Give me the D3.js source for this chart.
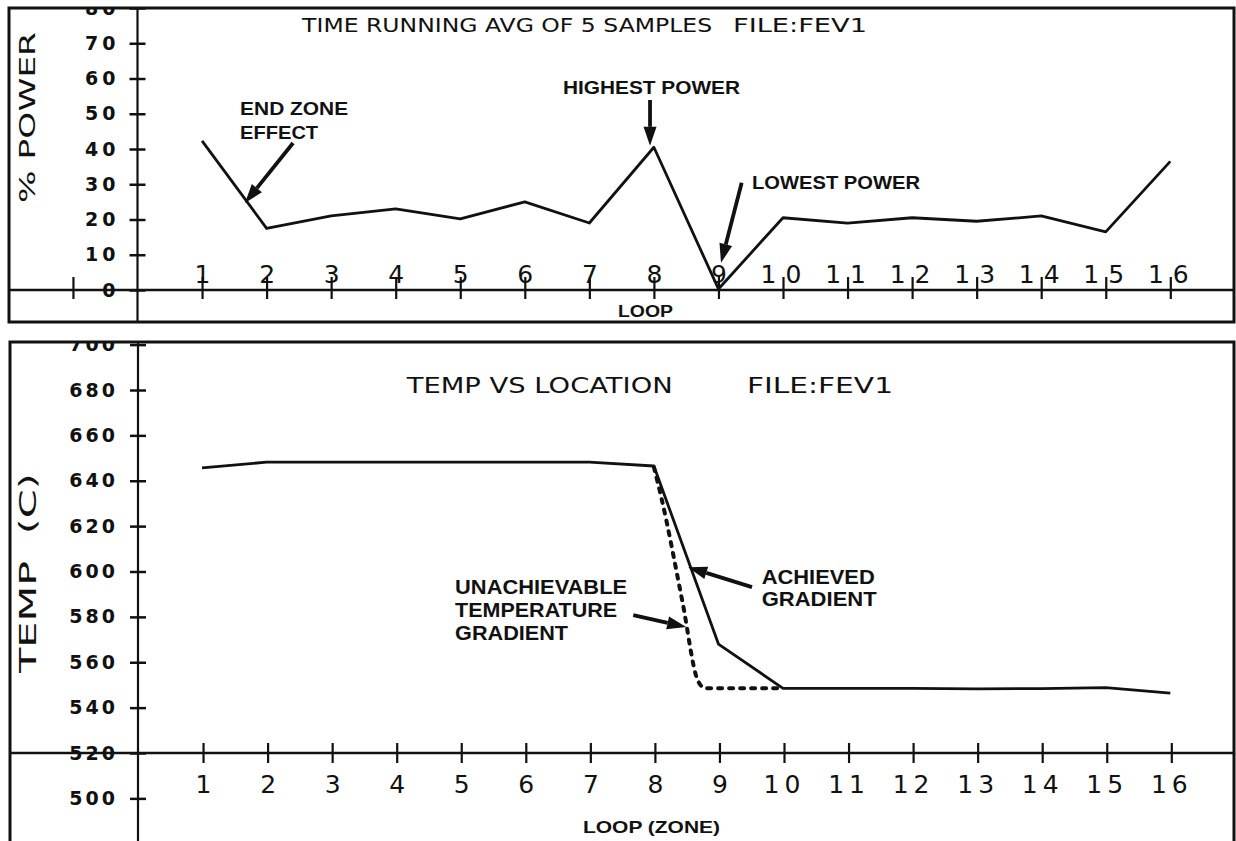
<!DOCTYPE html>
<html>
<head>
<meta charset="utf-8">
<script src="https://cdn.jsdelivr.net/npm/d3@7"></script>
<style>
  body { margin: 0; background: #fff; }
  svg { display: block; }
  .plot { font-family: "DejaVu Sans", sans-serif; fill: #111; }
  .note { font-family: "Liberation Sans", Arial, sans-serif; font-weight: bold; fill: #111; }
</style>
</head>
<body>
<div id="chart"></div>
<script>
// loop (zone) numbers along the furnace
var loops = [1, 2, 3, 4, 5, 6, 7, 8, 9, 10, 11, 12, 13, 14, 15, 16];
// % power, running avg of 5 samples
var powerPct = [42.3, 17.5, 21, 23, 20.2, 25, 19, 40.5, 0.3, 20.5, 19, 20.5, 19.5, 21, 16.5, 36.5];
var powerTicks = [0, 10, 20, 30, 40, 50, 60, 70, 80];
// temperature vs location
var tempAchieved = [645.7, 648.2, 648.2, 648.2, 648.2, 648.2, 648.2, 646.5, 568, 548.5, 548.5, 548.5, 548.3, 548.4, 548.8, 546.4];
var gradLoop = [8, 8.12, 8.44, 8.68, 8.8, 10];
var gradTemp = [646, 632, 587, 552, 548.5, 548.5];
var tempTicks = [500, 520, 540, 560, 580, 600, 620, 640, 660, 680, 700];

var width = 1236, height = 841;

var svg = d3.select("#chart").append("svg")
  .attr("width", width)
  .attr("height", height);

var x = d3.scaleLinear().domain([0, 16]).range([137.5, 1170.3]);
var yPow = d3.scaleLinear().domain([0, 80]).range([290, 8]);
var yTemp = d3.scaleLinear().domain([520, 680]).range([753, 390]);

var topBox = {left: 9, top: 8, right: 1234, bottom: 322};
var botBox = {left: 10, top: 342, right: 1234, bottom: 846};

// clip paths so the 80 / 700 labels get cut by the frame like the plotter did
var defs = svg.append("defs");
defs.append("clipPath").attr("id", "clipTop").append("rect")
  .attr("x", topBox.left).attr("y", topBox.top + 1)
  .attr("width", topBox.right - topBox.left).attr("height", topBox.bottom - topBox.top);
defs.append("clipPath").attr("id", "clipBot").append("rect")
  .attr("x", botBox.left).attr("y", botBox.top + 1)
  .attr("width", botBox.right - botBox.left).attr("height", botBox.bottom - botBox.top);

function arrow(g, x1, y1, x2, y2) {
  var ang = Math.atan2(y2 - y1, x2 - x1);
  var len = 19, half = 6.5;
  var bx = x2 - len * Math.cos(ang), by = y2 - len * Math.sin(ang);
  g.append("line")
    .attr("x1", x1).attr("y1", y1).attr("x2", bx).attr("y2", by)
    .attr("stroke", "#111").attr("stroke-width", 3.8);
  g.append("path")
    .attr("d", "M" + x2 + "," + y2 +
      "L" + (bx + half * Math.sin(ang)) + "," + (by - half * Math.cos(ang)) +
      "L" + (bx - half * Math.sin(ang)) + "," + (by + half * Math.cos(ang)) + "Z")
    .attr("fill", "#111");
}

function note(g, txt, px, py, len, size) {
  g.append("text")
    .attr("class", "note")
    .attr("x", px).attr("y", py)
    .attr("dy", "0.36em")
    .attr("font-size", size)
    .attr("textLength", len)
    .attr("lengthAdjust", "spacingAndGlyphs")
    .text(txt);
}

// ---------------- top panel: % power ----------------
var topG = svg.append("g").attr("clip-path", "url(#clipTop)");

var yAxisTop = topG.append("g")
  .attr("transform", "translate(" + x(0) + ",0)")
  .call(d3.axisLeft(yPow).tickValues(powerTicks).tickSize(8).tickPadding(14));
yAxisTop.select(".domain").remove();
yAxisTop.selectAll(".tick line").attr("x1", -8).attr("x2", 8)
  .attr("stroke", "#111").attr("stroke-width", 2.5);
yAxisTop.selectAll(".tick text")
  .attr("font-family", "DejaVu Sans, sans-serif")
  .attr("font-weight", "bold").attr("font-size", 19)
  .attr("letter-spacing", 4).attr("fill", "#111")
  .attr("x", -18);

var xAxisTop = topG.append("g")
  .attr("transform", "translate(0," + yPow(0) + ")")
  .call(d3.axisTop(x).tickValues([-1].concat(loops)).tickSize(12).tickPadding(4));
xAxisTop.select(".domain").remove();
xAxisTop.selectAll(".tick line").attr("y1", -13).attr("y2", 9)
  .attr("stroke", "#111").attr("stroke-width", 2.2);
xAxisTop.selectAll(".tick text")
  .attr("font-family", "DejaVu Sans, sans-serif")
  .attr("font-size", 25).attr("fill", "#111")
  .attr("letter-spacing", function(d) { return d >= 10 ? 9 : 0; })
  .attr("dx", function(d) { return d >= 10 ? 2 : 0; })
  .attr("y", -7)
  .text(function(d) { return d < 0 ? "" : d; });

// axis lines of the top panel
topG.append("line")
  .attr("x1", topBox.left).attr("x2", topBox.right)
  .attr("y1", yPow(0)).attr("y2", yPow(0))
  .attr("stroke", "#111").attr("stroke-width", 2.5);
topG.append("line")
  .attr("x1", x(0)).attr("x2", x(0))
  .attr("y1", topBox.top).attr("y2", topBox.bottom)
  .attr("stroke", "#111").attr("stroke-width", 2.2);

var powerLine = d3.line()
  .x(function(d, i) { return x(loops[i]); })
  .y(function(d) { return yPow(d); });

topG.append("path")
  .datum(powerPct)
  .attr("d", powerLine)
  .attr("fill", "none")
  .attr("stroke", "#111")
  .attr("stroke-width", 2.8)
  .attr("stroke-linejoin", "round");

topG.append("text").attr("class", "plot")
  .attr("x", x(2.55)).attr("y", yPow(75.2)).attr("dy", "0.36em")
  .attr("font-size", 19).attr("textLength", 410).attr("lengthAdjust", "spacingAndGlyphs")
  .text("TIME RUNNING AVG OF 5 SAMPLES");
topG.append("text").attr("class", "plot")
  .attr("x", 733).attr("y", yPow(75.2)).attr("dy", "0.36em")
  .attr("font-size", 19).attr("textLength", 134).attr("lengthAdjust", "spacingAndGlyphs")
  .text("FILE:FEV1");

topG.append("text").attr("class", "plot")
  .attr("transform", "translate(27,117.5) rotate(-90)")
  .attr("text-anchor", "middle").attr("dy", "0.36em")
  .attr("font-size", 22).attr("textLength", 171).attr("lengthAdjust", "spacingAndGlyphs")
  .text("% POWER");

note(topG, "END ZONE", x(1.59), yPow(51.6), 108, 18);
note(topG, "EFFECT", x(1.59), yPow(44.8), 78, 18);
arrow(topG, x(2.41), yPow(41.7), x(1.665), yPow(24.7));
note(topG, "HIGHEST POWER", 563, yPow(57.3), 177, 18);
arrow(topG, x(7.94), yPow(53.9), x(7.94), yPow(40.9));
note(topG, "LOWEST POWER", x(9.52), yPow(30.6), 168, 18);
arrow(topG, x(9.36), yPow(30.4), x(9.04), yPow(7.7));
note(topG, "LOOP", 618, 311, 55, 16);

svg.append("rect")
  .attr("x", topBox.left).attr("y", topBox.top)
  .attr("width", topBox.right - topBox.left).attr("height", topBox.bottom - topBox.top)
  .attr("fill", "none").attr("stroke", "#111").attr("stroke-width", 3);

// ---------------- bottom panel: temperature ----------------
var botG = svg.append("g").attr("clip-path", "url(#clipBot)");

var yAxisBot = botG.append("g")
  .attr("transform", "translate(" + (x(0) + 0.5) + ",0)")
  .call(d3.axisLeft(yTemp).tickValues(tempTicks).tickSize(8));
yAxisBot.select(".domain").remove();
yAxisBot.selectAll(".tick line").attr("x1", -8).attr("x2", 8)
  .attr("stroke", "#111").attr("stroke-width", 2.5);
yAxisBot.selectAll(".tick text")
  .attr("font-family", "DejaVu Sans, sans-serif")
  .attr("font-weight", "bold").attr("font-size", 19)
  .attr("letter-spacing", 3).attr("fill", "#111")
  .attr("x", -20);

var xAxisBot = botG.append("g")
  .attr("transform", "translate(1," + yTemp(520) + ")")
  .call(d3.axisBottom(x).tickValues(loops).tickSize(10));
xAxisBot.select(".domain").remove();
xAxisBot.selectAll(".tick line").attr("y1", -10).attr("y2", 10)
  .attr("stroke", "#111").attr("stroke-width", 2.2);
xAxisBot.selectAll(".tick text")
  .attr("font-family", "DejaVu Sans, sans-serif")
  .attr("font-size", 25).attr("fill", "#111")
  .attr("letter-spacing", function(d) { return d >= 10 ? 5 : 0; })
  .attr("y", 22);

botG.append("line")
  .attr("x1", botBox.left).attr("x2", botBox.right)
  .attr("y1", yTemp(520)).attr("y2", yTemp(520))
  .attr("stroke", "#111").attr("stroke-width", 2.5);
botG.append("line")
  .attr("x1", x(0) + 0.5).attr("x2", x(0) + 0.5)
  .attr("y1", botBox.top).attr("y2", botBox.bottom)
  .attr("stroke", "#111").attr("stroke-width", 2.2);

var tempLine = d3.line()
  .x(function(d, i) { return x(loops[i]); })
  .y(function(d) { return yTemp(d); });

botG.append("path")
  .datum(tempAchieved)
  .attr("d", tempLine)
  .attr("fill", "none")
  .attr("stroke", "#111")
  .attr("stroke-width", 2.8)
  .attr("stroke-linejoin", "round");

var gradLine = d3.line()
  .curve(d3.curveMonotoneX)
  .x(function(d, i) { return x(gradLoop[i]); })
  .y(function(d) { return yTemp(d); });

botG.append("path")
  .datum(gradTemp)
  .attr("d", gradLine)
  .attr("fill", "none")
  .attr("stroke", "#111")
  .attr("stroke-width", 4)
  .attr("stroke-linecap", "round")
  .attr("stroke-dasharray", "4,7");

botG.append("text").attr("class", "plot")
  .attr("x", x(4.17)).attr("y", yTemp(682.1)).attr("dy", "0.36em")
  .attr("font-size", 21).attr("textLength", 266).attr("lengthAdjust", "spacingAndGlyphs")
  .text("TEMP VS LOCATION");
botG.append("text").attr("class", "plot")
  .attr("x", 747).attr("y", yTemp(682.1)).attr("dy", "0.36em")
  .attr("font-size", 21).attr("textLength", 146).attr("lengthAdjust", "spacingAndGlyphs")
  .text("FILE:FEV1");

botG.append("text").attr("class", "plot")
  .attr("transform", "translate(28,573) rotate(-90)")
  .attr("text-anchor", "middle").attr("dy", "0.36em")
  .style("white-space", "pre")
  .attr("font-size", 23).attr("textLength", 200).attr("lengthAdjust", "spacingAndGlyphs")
  .text("TEMP  (C)");

note(botG, "UNACHIEVABLE", x(4.92), yTemp(593.1), 172, 20);
note(botG, "TEMPERATURE", x(4.92), yTemp(583), 162, 20);
note(botG, "GRADIENT", x(4.92), yTemp(572.9), 113, 20);
arrow(botG, x(7.68), yTemp(580.8), x(8.5), yTemp(575.5));
note(botG, "ACHIEVED", x(9.67), yTemp(597.5), 113, 20);
note(botG, "GRADIENT", x(9.67), yTemp(587.8), 115, 20);
arrow(botG, x(9.52), yTemp(593.1), x(8.53), yTemp(601.9));
note(botG, "LOOP (ZONE)", 583, yTemp(487.4), 137, 17);

svg.append("path")
  .attr("d", "M" + botBox.left + "," + botBox.bottom + "V" + botBox.top + "H" + botBox.right + "V" + botBox.bottom)
  .attr("fill", "none").attr("stroke", "#111").attr("stroke-width", 3);
</script>
</body>
</html>
